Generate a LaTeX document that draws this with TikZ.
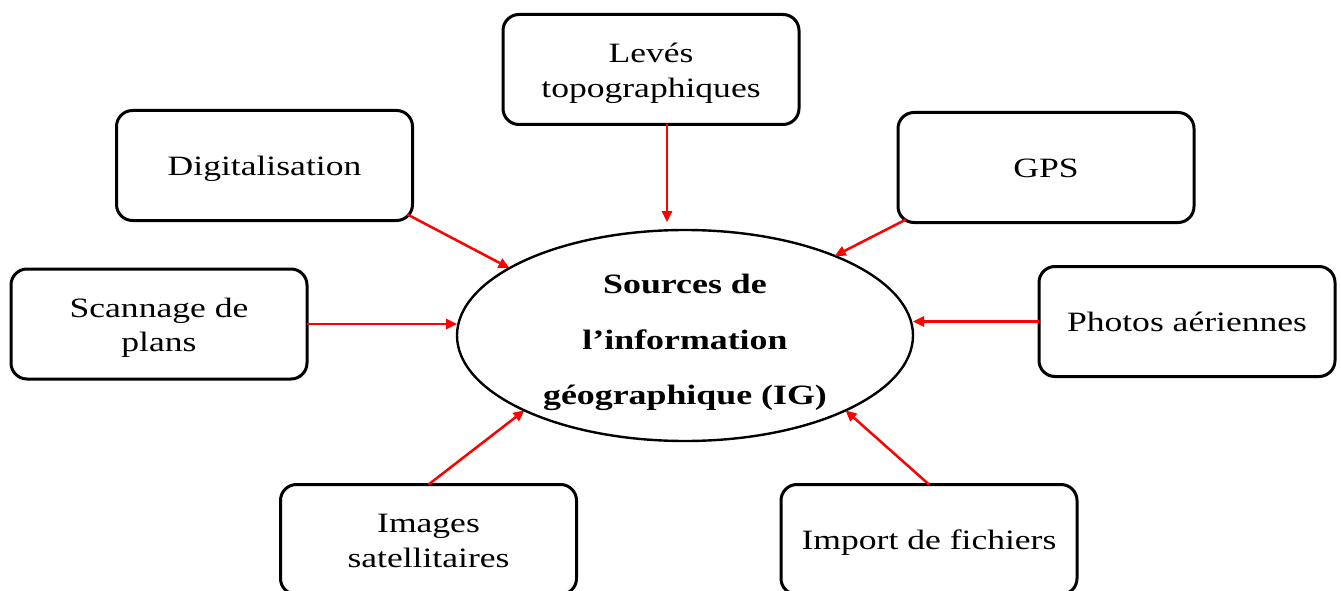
\documentclass[tikz,border=0pt]{standalone}
\usepackage{fontspec}
\setmainfont{Liberation Serif}
\usepackage{graphicx}
\usetikzlibrary{shapes.geometric,arrows.meta}

% Widened serif text for the boxes and the central ellipse
\newcommand{\boxtext}[1]{\raisebox{-3.5pt}[\height][\depth]{\scalebox{1.27}[1]{\fontsize{28}{34.5}\selectfont\begin{tabular}{@{}c@{}}#1\end{tabular}}}}
\newcommand{\coretext}[1]{\scalebox{1.28}[1]{\fontsize{28}{55.5}\selectfont\bfseries\begin{tabular}{@{}c@{}}#1\end{tabular}}}

\begin{document}
\begin{tikzpicture}[x=1pt,y=-1pt,
  srcbox/.style={draw, line width=3pt, rounded corners=16pt,
    minimum width=296pt, minimum height=110pt, inner sep=0pt, outer sep=0pt},
  core/.style={draw, ellipse, line width=2.4pt, minimum width=456pt,
    minimum height=211pt, inner sep=0pt, outer sep=0pt},
  feed/.style={draw=red, line width=2.5pt, -{Triangle[length=11pt,width=10pt]}},
]
\clip (0,0) rectangle (1341,591);
\fill[white] (0,0) rectangle (1341,591);

% central ellipse and its title
\node[core] (ig) at (685,335.5) {};
\node (igtext) at (685,338) {\coretext{Sources de\\l’information\\géographique (IG)}};

% sources
\node[srcbox] (lev) at (651,69.5) {\boxtext{Levés\\topographiques}};
\node[srcbox] (dig) at (264.5,165.5) {\boxtext{Digitalisation}};
\node[srcbox] (gps) at (1046,167.5) {\boxtext{GPS}};
\node[srcbox] (scan) at (159,324) {\boxtext{Scannage de\\plans}};
\node[srcbox] (photo) at (1187,321.5) {\boxtext{Photos aériennes}};
\node[srcbox] (img) at (428.5,539.5) {\boxtext{Images\\satellitaires}};
\node[srcbox] (imp) at (929,539.5) {\boxtext{Import de fichiers}};

% arrow start points
\coordinate (levout) at ([xshift=16pt]lev.south);
\coordinate (digout) at ([shift={(-5,-6)}]dig.south east);
\coordinate (gpsout) at ([shift={(8,-3)}]gps.south west);

% arrows into the ellipse
\draw[feed, shorten >=8pt] (levout) -- (levout |- ig.north);
\draw[feed] (digout) -- (ig.159);
\draw[feed] (gpsout) -- (ig.28);
\draw[feed] (scan.east) -- (scan.east -| ig.west);
\draw[feed] (photo.west) -- (photo.west -| ig.east);
\draw[feed] (img.north) -- (ig.205);
\draw[feed] (imp.north) -- (ig.335);
\end{tikzpicture}
\end{document}
